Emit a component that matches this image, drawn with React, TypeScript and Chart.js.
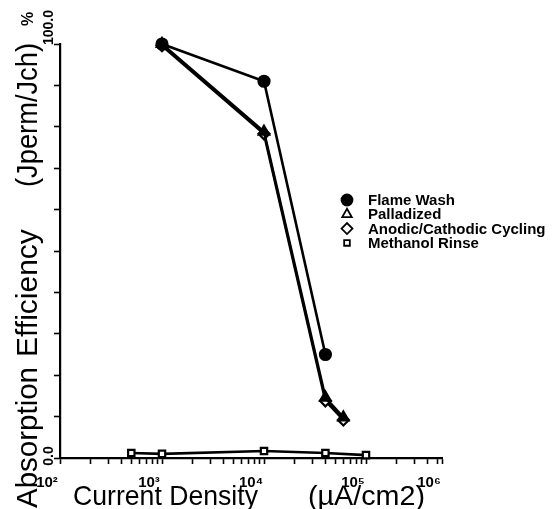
import React, { useEffect, useRef } from "react";
import { Chart, registerables } from "chart.js";
import { drawPoint } from "chart.js/helpers";

Chart.register(...registerables);

// ---- Data ----
const seriesNames = ["Flame Wash", "Palladized", "Anodic/Cathodic Cycling", "Methanol Rinse"];
const flameX = [1000, 10000, 40000];
const flameY = [100, 91.0, 25.0];
const pallX = [1000, 10000, 40000, 60000];
const pallY = [100, 78.8, 14.6, 9.8];
const anodX = [1000, 10000, 40000, 60000];
const anodY = [99.6, 78.3, 13.8, 9.2];
const methX = [500, 1000, 10000, 40000, 100000];
const methY = [1.2, 1.0, 1.7, 1.2, 0.7];

const xTickLabels = ["10²", "10³", "10⁴", "10⁵", "10⁶"];
const yTickValues = [0, 100];
const yTickLabels = ["0.0", "100.0"];
const X_MIN = 100;
const X_MAX = 556000;

const yTitleWords = ["Absorption", "Efficiency", "(Jperm/Jch)"];
const xTitleWords = ["Current Density", "(µA/cm2)"];

const FONT = "'Liberation Sans', Arial, Helvetica, sans-serif";

function pts(xs: number[], ys: number[]) {
  return xs.map((x, i) => ({ x, y: ys[i] }));
}

const pointStyles = ["circle", "triangle", "rectRot", "rect"];
const drawOrder = [1, 0, 2, 3];

const overlayPlugin = {
  id: "overlay",
  afterDraw(chart: any) {
    const ctx = chart.ctx as CanvasRenderingContext2D;
    ctx.save();
    ctx.fillStyle = "#000";
    // Y title (rotated)
    ctx.font = `30px ${FONT}`;
    ctx.textAlign = "left";
    ctx.textBaseline = "alphabetic";
    const yStarts = [508, 357, 187];
    const yWidths = [141, 130, 144];
    yTitleWords.forEach((w, i) => {
      ctx.save();
      ctx.translate(37, yStarts[i]);
      ctx.rotate(-Math.PI / 2);
      ctx.fillText(w, 0, 0, yWidths[i]);
      ctx.restore();
    });
    ctx.save();
    ctx.font = `bold 16px ${FONT}`;
    ctx.translate(33, 26);
    ctx.rotate(-Math.PI / 2);
    ctx.fillText("%", 0, 0);
    ctx.restore();

    // Y tick labels (rotated)
    const ys = chart.scales.y;
    ctx.font = `bold 14px ${FONT}`;
    yTickValues.forEach((v, i) => {
      const py = ys.getPixelForValue(v);
      ctx.save();
      ctx.translate(53, v === 0 ? py - 2 : py + 1);
      ctx.rotate(-Math.PI / 2);
      ctx.textAlign = v === 0 ? "center" : "left";
      ctx.fillText(yTickLabels[i], 0, 0);
      ctx.restore();
    });

    // X title
    ctx.font = `27px ${FONT}`;
    ctx.textAlign = "left";
    const xStarts = [73, 308];
    const xWidths = [185, 117];
    xTitleWords.forEach((w, i) => {
      ctx.save();
      ctx.translate(xStarts[i], 505);
      const m = ctx.measureText(w).width;
      ctx.scale(Math.max(1, xWidths[i] / m), 1.05);
      ctx.fillText(w, 0, 0, xWidths[i]);
      ctx.restore();
    });

    // Legend
    ctx.font = `bold 15px ${FONT}`;
    ctx.textBaseline = "middle";
    seriesNames.forEach((name, i) => {
      const cy = 200 + i * 14.3;
      const ds = chart.data.datasets[i];
      ctx.save();
      ctx.lineWidth = 1.8;
      ctx.strokeStyle = "#000";
      ctx.fillStyle = i === 0 ? "#000" : "#fff";
      drawPoint(ctx, { pointStyle: ds.pointStyle, rotation: 0, radius: i === 3 ? 4 : 5.5, borderWidth: 1.8 } as any, 347, cy);
      ctx.restore();
      ctx.fillStyle = "#000";
      ctx.fillText(name, 368, cy + 1);
    });
    ctx.restore();
  },
};

export default function App() {
  const ref = useRef<HTMLCanvasElement>(null);
  useEffect(() => {
    document.body.style.margin = "0";
    const canvas = ref.current!;
    const mk = (i: number, data: any[], fill: string, r: number) => ({
      label: seriesNames[i],
      data,
      order: drawOrder[i],
      showLine: true,
      borderColor: "#000",
      borderWidth: 2.6,
      pointStyle: pointStyles[i],
      pointRadius: r,
      pointBorderWidth: 2.2,
      pointBorderColor: "#000",
      pointBackgroundColor: fill,
      clip: false,
    });
    const chart = new Chart(canvas, {
      type: "scatter",
      data: {
        datasets: [
          mk(0, pts(flameX, flameY), "#000", 5.5),
          mk(1, pts(pallX, pallY), "#000", 6),
          mk(2, pts(anodX, anodY), "#fff", 5.5),
          mk(3, pts(methX, methY), "#fff", 4.5),
        ],
      },
      options: {
        responsive: false,
        animation: false,
        layout: { padding: { top: 44, right: 113, left: 0, bottom: 0 } },
        plugins: { legend: { display: false }, tooltip: { enabled: false } },
        scales: {
          x: {
            type: "logarithmic",
            min: X_MIN,
            max: X_MAX,
            afterFit: (s: any) => {
              s.height = 51;
            },
            afterBuildTicks: (s: any) => {
              const t: any[] = [];
              for (let e = 2; e <= 5; e++) {
                for (let m = 1; m <= 9; m++) {
                  const v = m * Math.pow(10, e);
                  if (v < X_MAX) t.push({ value: v });
                }
              }
              t.push({ value: X_MAX });
              s.ticks = t;
            },
            grid: { drawOnChartArea: false, tickLength: 6, tickWidth: 1.6, color: "#000" },
            border: { display: true, color: "#000", width: 2.2 },
            ticks: {
              autoSkip: false,
              maxRotation: 0,
              minRotation: 0,
              padding: 10,
              labelOffset: -13,
              color: "#000",
              font: { family: FONT, size: 15, weight: "bold" },
              callback: (value: any) => {
                const v = Number(value);
                if (v === X_MAX) return xTickLabels[4];
                const e = Math.log10(v);
                if (Math.abs(e - Math.round(e)) < 1e-9) return xTickLabels[Math.round(e) - 2];
                return "";
              },
            },
          },
          y: {
            min: 0,
            max: 100,
            afterFit: (s: any) => {
              s.width = 60;
            },
            grid: { drawOnChartArea: false, tickLength: 6, tickWidth: 1.6, color: "#000" },
            border: { display: true, color: "#000", width: 2.2 },
            ticks: {
              stepSize: 10,
              display: false,
            },
          },
        },
      },
      plugins: [overlayPlugin],
    });
    return () => chart.destroy();
  }, []);
  return (
    <div style={{ width: 555, height: 509, background: "#fff" }}>
      <canvas ref={ref} width={555} height={509} />
    </div>
  );
}
